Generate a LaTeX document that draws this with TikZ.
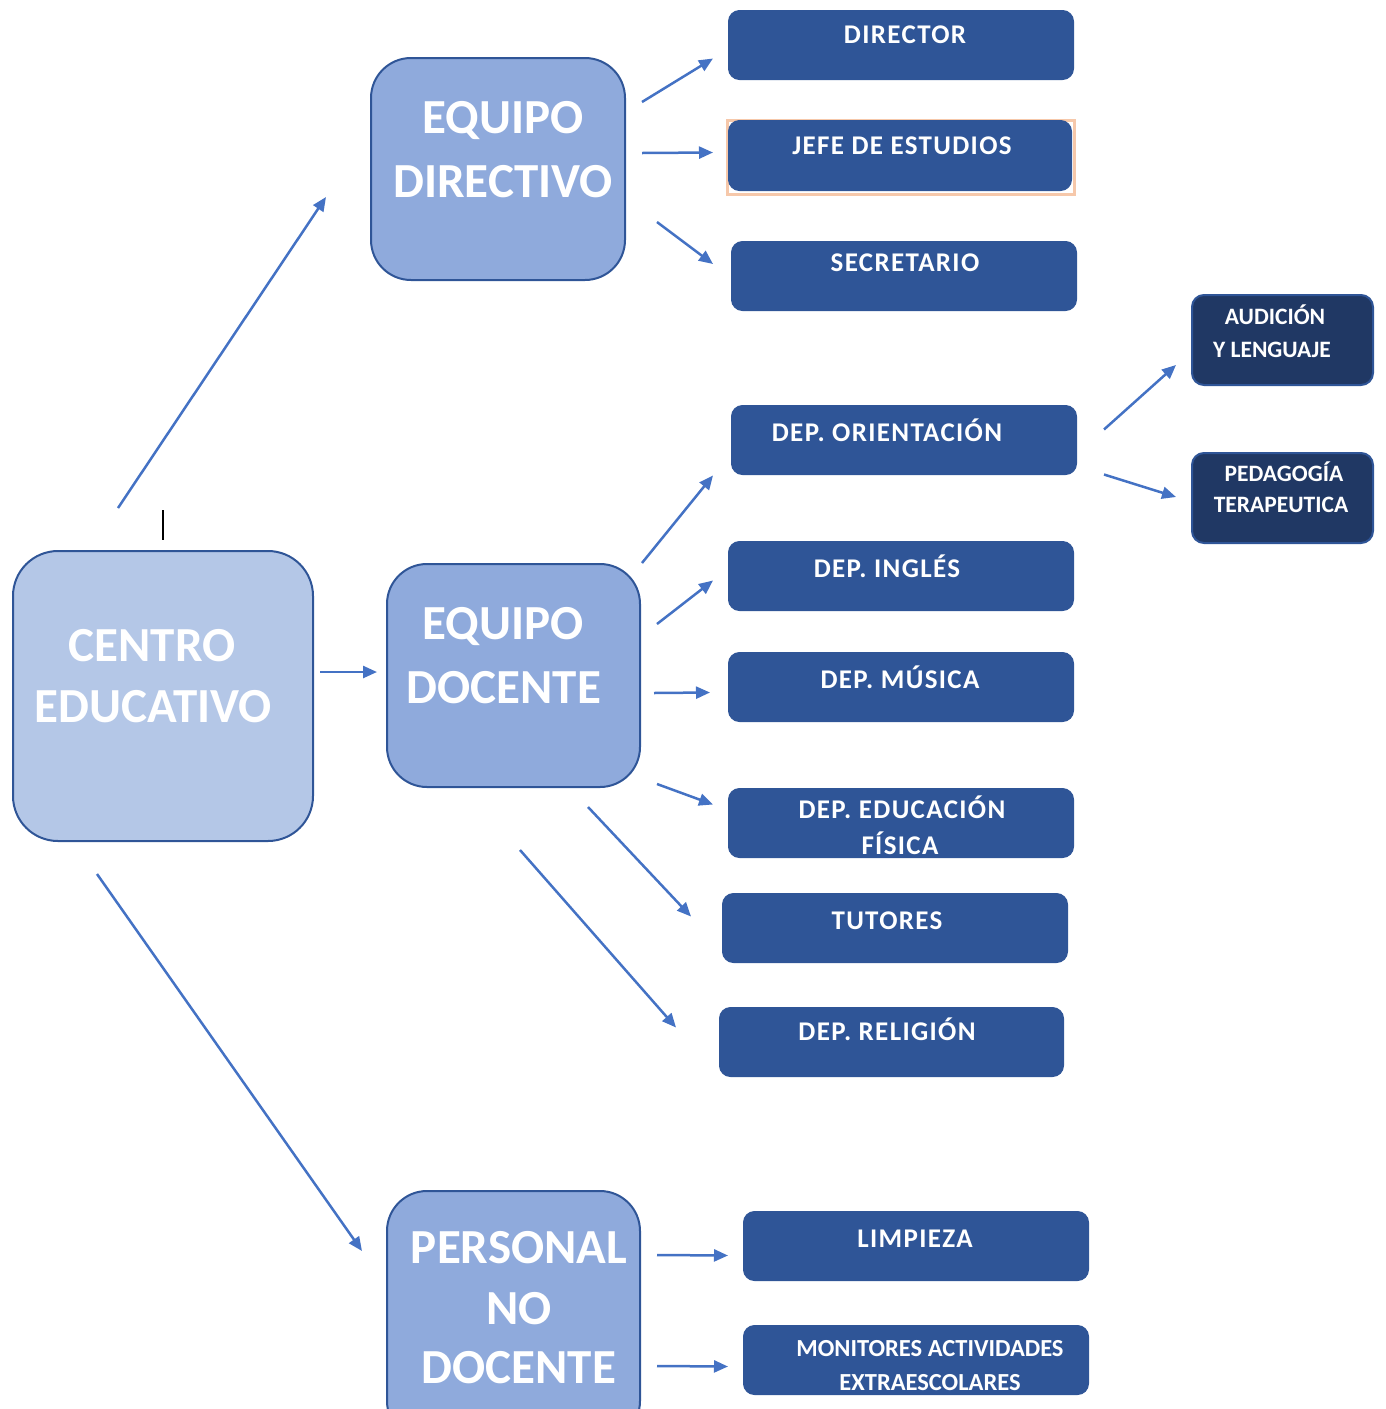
\documentclass[tikz,border=0pt]{standalone}
\usepackage{fontspec}
\setmainfont{Carlito}
\newfontfamily\sfam[LetterSpace=5]{Carlito}
\newfontfamily\nfam{Carlito}
\usetikzlibrary{arrows.meta,calc}
\definecolor{cefill}{HTML}{B4C7E7}
\definecolor{midfill}{HTML}{8FAADC}
\definecolor{dark}{HTML}{2F5597}
\definecolor{darker}{HTML}{203864}
\definecolor{arrowc}{HTML}{4472C4}
\definecolor{peach}{HTML}{F6C8AA}
\tikzset{
  bigbox/.style={draw=dark, line width=2pt, rounded corners=40pt, fill=midfill, inner sep=0, anchor=north west},
  sbox/.style={fill=dark, draw=dark, line width=1pt, rounded corners=11pt, inner sep=0, anchor=north west, minimum width=345pt, minimum height=69pt},
  abox/.style={fill=darker, draw=dark, line width=2pt, rounded corners=12pt, inner sep=0, anchor=north west, minimum width=181pt, minimum height=90pt},
  bigtxt/.style={font=\bfseries\fontsize{49}{61}\selectfont, text=white, anchor=base, inner sep=0},
  stxt/.style={font=\sfam\bfseries\fontsize{27}{33}\selectfont, text=white, anchor=base, inner sep=0},
  ntxt/.style={font=\nfam\bfseries\fontsize{23.5}{28}\selectfont, text=white, anchor=base, inner sep=0},
  mtxt/.style={font=\nfam\bfseries\fontsize{24.5}{28}\selectfont, text=white, anchor=base, inner sep=0},
  arr/.style={draw=arrowc, line width=2.5pt, -{Triangle[length=14pt,width=12pt]}}
}
\begin{document}
\begin{tikzpicture}[x=1pt,y=-1pt]
\useasboundingbox (0,0) rectangle (1385,1409);
\begin{scope}
\clip (0,0) rectangle (1385,1409);
% big boxes
\node[bigbox, fill=cefill, rounded corners=45pt, minimum width=300pt, minimum height=290pt] (ce) at (12,550) {};
\node[bigbox, minimum width=254pt, minimum height=222pt] (ed) at (370,57) {};
\node[bigbox, minimum width=253pt, minimum height=223pt] (doc) at (386,563) {};
\node[bigbox, minimum width=253pt, minimum height=250pt] (pnd) at (386,1190) {};
\end{scope}
\node[bigtxt] (tce1) at (152,661) {CENTRO};
\node[bigtxt] (tce2) at (153,722) {EDUCATIVO};
\node[bigtxt] (ted1) at (503,133) {EQUIPO};
\node[bigtxt] (ted2) at (503,197) {DIRECTIVO};
\node[bigtxt] (tdoc1) at (503,639) {EQUIPO};
\node[bigtxt] (tdoc2) at (504,703) {DOCENTE};
\node[bigtxt] (tpnd1) at (519,1263) {PERSONAL};
\node[bigtxt] (tpnd2) at (519,1324) {NO};
\node[bigtxt] (tpnd3) at (519,1383) {DOCENTE};
% small boxes
\node[sbox] (dir) at (728,10) {};
\node[draw=peach, line width=2.5pt, inner sep=0, anchor=north west, minimum width=347pt, minimum height=74pt] (jsel) at (726,119) {};
\node[sbox, minimum width=343pt, minimum height=70pt] (jefe) at (728,120) {};
\node[sbox] (sec) at (731,241) {};
\node[sbox] (ori) at (731,405) {};
\node[sbox] (ing) at (728,541) {};
\node[sbox] (mus) at (728,652) {};
\node[sbox] (ef) at (728,788) {};
\node[sbox] (tut) at (722,893) {};
\node[sbox, minimum width=344pt] (rel) at (719,1007) {};
\node[sbox] (lim) at (743,1211) {};
\node[sbox] (mon) at (743,1325) {};
\node[abox] (aud) at (1191,294) {};
\node[abox] (ped) at (1191,452) {};
% small texts
\node[stxt] (tdir) at (905,43) {DIRECTOR};
\node[stxt] (tjefe) at (902,154) {JEFE DE ESTUDIOS};
\node[stxt] (tsec) at (905,271) {SECRETARIO};
\node[stxt] (tori) at (887,441) {DEP. ORIENTACIÓN};
\node[stxt] (ting) at (887,577) {DEP. INGLÉS};
\node[stxt] (tmus) at (900,688) {DEP. MÚSICA};
\node[stxt] (tef1) at (902,818) {DEP. EDUCACIÓN};
\node[stxt] (tef2) at (900,854) {FÍSICA};
\node[stxt] (ttut) at (887,929) {TUTORES};
\node[stxt] (trel) at (887,1040) {DEP. RELIGIÓN};
\node[stxt] (tlim) at (915,1247) {LIMPIEZA};
\node[mtxt] (tmon1) at (930,1356) {MONITORES ACTIVIDADES};
\node[mtxt] (tmon2) at (930,1390) {EXTRAESCOLARES};
\node[ntxt] (taud1) at (1275,324) {AUDICIÓN};
\node[ntxt] (taud2) at (1272,357) {Y LENGUAJE};
\node[ntxt] (tped1) at (1284,481) {PEDAGOGÍA};
\node[ntxt] (tped2) at (1281,512) {TERAPEUTICA};
% tick mark
\draw[black, line width=2.5pt] (163,510) -- (163,540);
% arrows
\draw[arr] ($(ce.north)+(-45,-42)$) -- ($(ed.west)+(-44,28)$);
\draw[arr] ($(ce.east)+(6,-24)$) -- ($(doc.west)+(-9,-3.5)$);
\draw[arr] ($(ce.south)+(-66,32)$) -- ($(pnd.north west)+(-24,61)$);
\draw[arr] ($(ed.east)+(16,-67)$) -- ($(dir.west)+(-15,13.5)$);
\draw[arr] ($(ed.east)+(16,-16)$) -- ($(jefe.west)+(-15,-3)$);
\draw[arr] ($(ed.east)+(31,53)$) -- ($(sec.west)+(-18,-12)$);
\draw[arr] ($(doc.east)+(1,-112.5)$) -- ($(ori.west)+(-18,35.5)$);
\draw[arr] ($(doc.east)+(16,-51.5)$) -- ($(ing.west)+(-15,4.5)$);
\draw[arr] ($(doc.east)+(13,17.5)$) -- ($(mus.west)+(-18,5.5)$);
\draw[arr] ($(doc.east)+(16,108.5)$) -- ($(ef.west)+(-15,-18.5)$);
\draw[arr] ($(doc.south)+(74.5,19)$) -- ($(tut.west)+(-31,-11.5)$);
\draw[arr] ($(doc.south)+(6.5,62)$) -- ($(rel.west)+(-43,-14.5)$);
\draw[arr] ($(ori.east)+(27,-10.5)$) -- ($(aud.west)+(-15,25)$);
\draw[arr] ($(ori.east)+(27,34.5)$) -- ($(ped.west)+(-15,-1)$);
\draw[arr] ($(pnd.north east)+(16,65)$) -- ($(lim.west)+(-15,9.5)$);
\draw[arr] ($(pnd.north east)+(16,176)$) -- ($(mon.west)+(-15,6.5)$);
\end{tikzpicture}
\end{document}
